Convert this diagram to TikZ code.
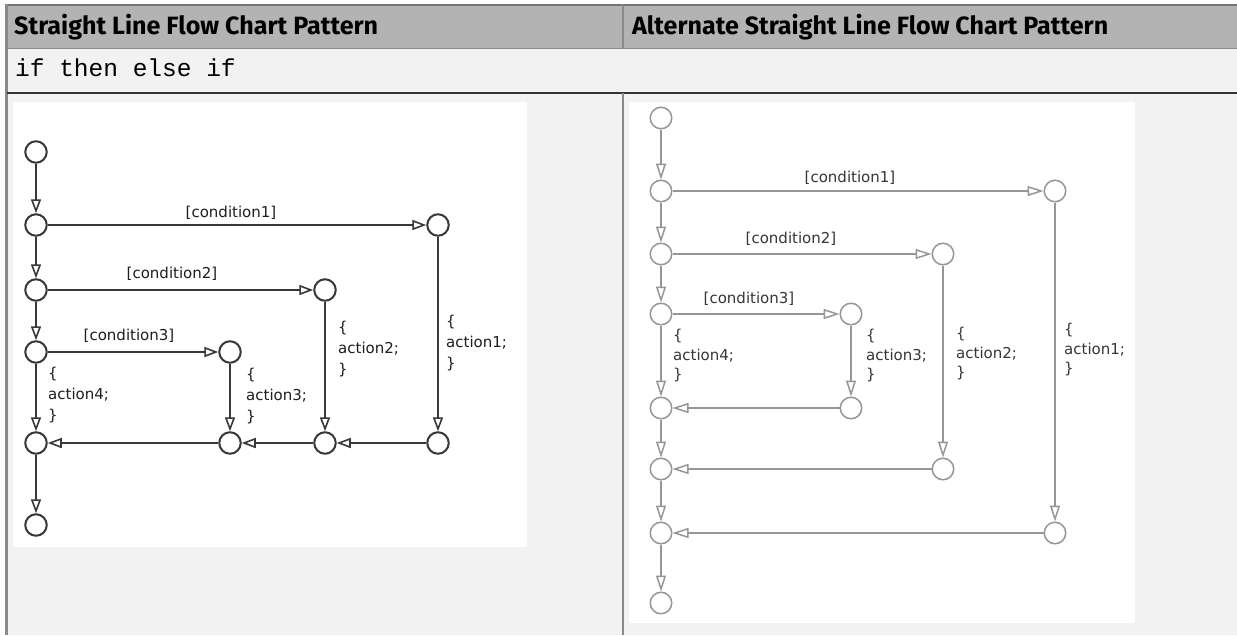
\documentclass[tikz,border=0pt]{standalone}
\usepackage{fontspec}
\setmainfont{DejaVu Sans}
\newfontfamily\headfont{Fira Sans}
\newfontfamily\codefont{Liberation Mono}
\usepackage{tikz}
\usetikzlibrary{shapes, arrows.meta}
\usepackage{xcolor}
\definecolor{headgray}{HTML}{B3B3B3}
\definecolor{cellgray}{HTML}{F2F2F2}
\definecolor{rulegray}{HTML}{8A8A8A}
\definecolor{ruledark}{HTML}{333333}
\definecolor{leftink}{HTML}{383838}
\definecolor{lefttext}{HTML}{1E1E1E}
\definecolor{rightink}{HTML}{969696}
\definecolor{righttext}{HTML}{363636}

\tikzset{
  lstate/.style={circle, draw=leftink, line width=2pt, fill=white, minimum size=21.5pt, inner sep=0pt},
  rstate/.style={circle, draw=rightink, line width=1.5pt, fill=white, minimum size=21.5pt, inner sep=0pt},
  lflow/.style={draw=leftink, line width=2pt, -{Triangle[open, length=14pt, width=10pt, line width=1.6pt]}},
  rflow/.style={draw=rightink, line width=1.5pt, -{Triangle[open, length=16pt, width=10pt]}},
  cond/.style={font=\fontsize{15}{16}\selectfont, inner sep=0pt},
  action/.style={font=\fontsize{15}{21}\selectfont, align=left, inner sep=0pt, anchor=west},
}

\begin{document}
\begin{tikzpicture}[x=1pt, y=-1pt]
    \useasboundingbox (0,0) rectangle (1237,635);

    % Table cells
    \fill[white] (0,0) rectangle (1237,635);
    \fill[headgray] (7,5) rectangle (1237,48);
    \fill[cellgray] (7,48) rectangle (1237,635);
    \fill[white] (13,102) rectangle (527,547);
    \fill[white] (629,102) rectangle (1135,623);

    % Table rules
    \draw[color=rulegray!85!black, line width=2pt] (6,4.5) -- (1237,4.5);
    \draw[color=rulegray, line width=2.5pt] (6.5,4) -- (6.5,635);
    \draw[color=rulegray, line width=1pt] (7,48) -- (1237,48);
    \draw[color=ruledark, line width=1.2pt] (7,93) -- (1237,93);
    \draw[color=rulegray, line width=1.5pt] (623,5) -- (623,48);
    \draw[color=rulegray, line width=2pt] (623,93) -- (623,635);

    % Header and row texts
    \node (H1) [anchor=base west, inner sep=0pt] at (14,34)
        {\resizebox{364pt}{\height}{\headfont\bfseries\fontsize{25}{25}\selectfont Straight Line Flow Chart Pattern}};
    \node (H2) [anchor=base west, inner sep=0pt] at (632,34)
        {\resizebox{476pt}{\height}{\headfont\bfseries\fontsize{25}{25}\selectfont Alternate Straight Line Flow Chart Pattern}};
    \node (IF) [anchor=base west, inner sep=0pt] at (15,76)
        {\codefont\fontsize{24.5}{25}\selectfont if then else if};

    % Define nodes: straight line pattern
    \node (L0) [lstate] at (36,152) {};
    \node (L1) [lstate] at (36,225) {};
    \node (L2) [lstate] at (36,290) {};
    \node (L3) [lstate] at (36,352) {};
    \node (LM) [lstate] at (36,443) {};
    \node (LE) [lstate] at (36,525) {};
    \node (LT1) [lstate] at (438,225) {};
    \node (LT2) [lstate] at (325,290) {};
    \node (LT3) [lstate] at (230,352) {};
    \node (LB1) [lstate] at (438,443) {};
    \node (LB2) [lstate] at (325,443) {};
    \node (LB3) [lstate] at (230,443) {};

    \node (LC1) [cond, text=lefttext] at (231,213) {[condition1]};
    \node (LC2) [cond, text=lefttext] at (172,274) {[condition2]};
    \node (LC3) [cond, text=lefttext] at (129,336) {[condition3]};
    \node (LA1) [action, text=lefttext] at (446,343) {\{\\action1;\\\}};
    \node (LA2) [action, text=lefttext] at (338,349) {\{\\action2;\\\}};
    \node (LA3) [action, text=lefttext] at (246,396) {\{\\action3;\\\}};
    \node (LA4) [action, text=lefttext] at (48,395) {\{\\action4;\\\}};

    % Draw edges: straight line pattern
    \draw[lflow] (L0) -- (L1);
    \draw[lflow] (L1) -- (L2);
    \draw[lflow] (L2) -- (L3);
    \draw[lflow] (L3) -- (LM);
    \draw[lflow] (LM) -- (LE);
    \draw[lflow] (L1) -- (LT1);
    \draw[lflow] (L2) -- (LT2);
    \draw[lflow] (L3) -- (LT3);
    \draw[lflow] (LT1) -- (LB1);
    \draw[lflow] (LT2) -- (LB2);
    \draw[lflow] (LT3) -- (LB3);
    \draw[lflow] (LB1) -- (LB2);
    \draw[lflow] (LB2) -- (LB3);
    \draw[lflow] (LB3) -- (LM);

    % Define nodes: alternate pattern
    \node (R0) [rstate] at (661,118) {};
    \node (R1) [rstate] at (661,191) {};
    \node (R2) [rstate] at (661,254) {};
    \node (R3) [rstate] at (661,314) {};
    \node (RM3) [rstate] at (661,408) {};
    \node (RM2) [rstate] at (661,469) {};
    \node (RM1) [rstate] at (661,533) {};
    \node (RE) [rstate] at (661,603) {};
    \node (RT1) [rstate] at (1055,191) {};
    \node (RT2) [rstate] at (943,254) {};
    \node (RT3) [rstate] at (851,314) {};
    \node (RB3) [rstate] at (851,408) {};
    \node (RB2) [rstate] at (943,469) {};
    \node (RB1) [rstate] at (1055,533) {};

    \node (RC1) [cond, text=righttext] at (850,178) {[condition1]};
    \node (RC2) [cond, text=righttext] at (791,239) {[condition2]};
    \node (RC3) [cond, text=righttext] at (749,299) {[condition3]};
    \node (RA1) [action, text=righttext, font=\fontsize{15}{19.5}\selectfont] at (1064,350) {\{\\action1;\\\}};
    \node (RA2) [action, text=righttext, font=\fontsize{15}{19.5}\selectfont] at (956,354) {\{\\action2;\\\}};
    \node (RA3) [action, text=righttext, font=\fontsize{15}{19.5}\selectfont] at (866,356) {\{\\action3;\\\}};
    \node (RA4) [action, text=righttext, font=\fontsize{15}{19.5}\selectfont] at (673,356) {\{\\action4;\\\}};

    % Draw edges: alternate pattern
    \draw[rflow] (R0) -- (R1);
    \draw[rflow] (R1) -- (R2);
    \draw[rflow] (R2) -- (R3);
    \draw[rflow] (R3) -- (RM3);
    \draw[rflow] (RM3) -- (RM2);
    \draw[rflow] (RM2) -- (RM1);
    \draw[rflow] (RM1) -- (RE);
    \draw[rflow] (R1) -- (RT1);
    \draw[rflow] (R2) -- (RT2);
    \draw[rflow] (R3) -- (RT3);
    \draw[rflow] (RT3) -- (RB3);
    \draw[rflow] (RT2) -- (RB2);
    \draw[rflow] (RT1) -- (RB1);
    \draw[rflow] (RB3) -- (RM3);
    \draw[rflow] (RB2) -- (RM2);
    \draw[rflow] (RB1) -- (RM1);
\end{tikzpicture}
\end{document}
